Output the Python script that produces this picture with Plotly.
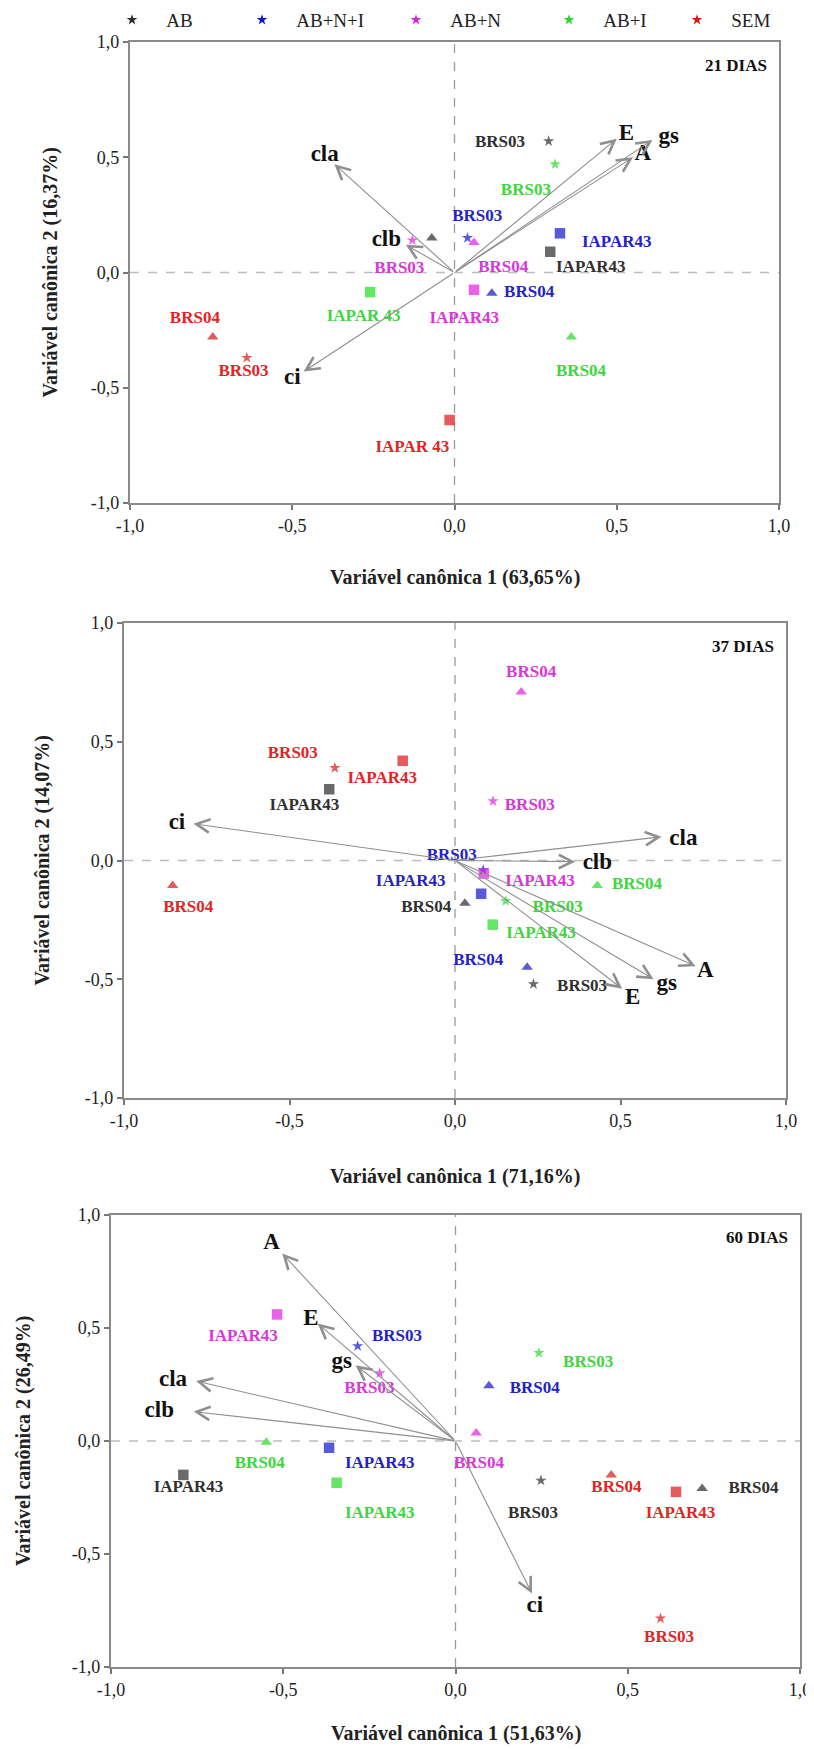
import plotly.graph_objects as go

# ---------------- data ----------------
groups = ["AB", "AB+N+I", "AB+N", "AB+I", "SEM"]
cultivars = ["BRS03", "BRS04", "IAPAR43"]

# Panel 1: 21 DIAS (order per group: BRS03, BRS04, IAPAR43)
p1_group = ["AB", "AB", "AB", "AB+N+I", "AB+N+I", "AB+N+I", "AB+N", "AB+N", "AB+N",
            "AB+I", "AB+I", "AB+I", "SEM", "SEM", "SEM"]
p1_cult = ["BRS03", "BRS04", "IAPAR43"] * 5
p1_x = [0.29, -0.07, 0.295, 0.04, 0.115, 0.325, -0.13, 0.06, 0.06, 0.31, 0.36, -0.26, -0.64, -0.745, -0.015]
p1_y = [0.57, 0.15, 0.09, 0.15, -0.09, 0.17, 0.14, 0.13, -0.075, 0.47, -0.28, -0.085, -0.37, -0.28, -0.64]
p1_text = ["BRS03", "", "IAPAR43", "BRS03", "BRS04", "IAPAR43", "BRS03", "BRS04", "IAPAR43",
           "BRS03", "BRS04", "IAPAR 43", "BRS03", "BRS04", "IAPAR 43"]
p1_lx = [0.14, 0.0, 0.42, 0.07, 0.23, 0.50, -0.17, 0.15, 0.03, 0.22, 0.39, -0.28, -0.65, -0.80, -0.13]
p1_ly = [0.565, 0.0, 0.02, 0.24, -0.09, 0.13, 0.015, 0.02, -0.20, 0.355, -0.43, -0.19, -0.43, -0.20, -0.76]
p1_vars = ["E", "gs", "A", "cla", "clb", "ci"]
p1_vx = [0.50, 0.61, 0.55, -0.37, -0.15, -0.465]
p1_vy = [0.58, 0.575, 0.50, 0.47, 0.12, -0.43]
p1_vlx = [0.53, 0.66, 0.58, -0.40, -0.21, -0.50]
p1_vly = [0.60, 0.585, 0.515, 0.51, 0.14, -0.46]

# Panel 2: 37 DIAS
p2_group = p1_group
p2_cult = p1_cult
p2_x = [0.237, 0.03, -0.38, 0.085, 0.218, 0.079, 0.115, 0.20, 0.087, 0.153, 0.43, 0.114, -0.363, -0.853, -0.158]
p2_y = [-0.52, -0.18, 0.30, -0.04, -0.45, -0.14, 0.25, 0.71, -0.055, -0.17, -0.105, -0.27, 0.39, -0.105, 0.42]
p2_text = ["BRS03", "BRS04", "IAPAR43", "BRS03", "BRS04", "IAPAR43", "BRS03", "BRS04", "IAPAR43",
           "BRS03", "BRS04", "IAPAR43", "BRS03", "BRS04", "IAPAR43"]
p2_lx = [0.384, -0.087, -0.455, -0.01, 0.07, -0.134, 0.226, 0.23, 0.257, 0.31, 0.55, 0.26, -0.49, -0.806, -0.22]
p2_ly = [-0.53, -0.20, 0.23, 0.02, -0.42, -0.09, 0.23, 0.79, -0.09, -0.20, -0.10, -0.31, 0.45, -0.20, 0.345]
p2_vars = ["ci", "cla", "clb", "A", "gs", "E"]
p2_vx = [-0.79, 0.624, 0.363, 0.727, 0.60, 0.505]
p2_vy = [0.155, 0.10, -0.005, -0.445, -0.50, -0.54]
p2_vlx = [-0.84, 0.69, 0.43, 0.756, 0.64, 0.537]
p2_vly = [0.155, 0.09, -0.01, -0.465, -0.52, -0.58]

# Panel 3: 60 DIAS
p3_group = p1_group
p3_cult = p1_cult
p3_x = [0.248, 0.716, -0.79, -0.284, 0.097, -0.367, -0.22, 0.06, -0.518, 0.242, -0.549, -0.345, 0.595, 0.452, 0.64]
p3_y = [-0.175, -0.21, -0.15, 0.42, 0.245, -0.03, 0.30, 0.035, 0.56, 0.39, -0.005, -0.185, -0.785, -0.15, -0.225]
p3_text = p2_text
p3_lx = [0.225, 0.865, -0.775, -0.17, 0.23, -0.22, -0.25, 0.068, -0.617, 0.385, -0.568, -0.22, 0.62, 0.467, 0.653]
p3_ly = [-0.32, -0.21, -0.205, 0.46, 0.23, -0.10, 0.23, -0.10, 0.46, 0.345, -0.10, -0.32, -0.87, -0.205, -0.32]
p3_vars = ["A", "E", "gs", "cla", "clb", "ci"]
p3_vx = [-0.503, -0.40, -0.29, -0.753, -0.76, 0.222]
p3_vy = [0.83, 0.52, 0.335, 0.265, 0.13, -0.675]
p3_vlx = [-0.534, -0.42, -0.33, -0.82, -0.86, 0.23]
p3_vly = [0.875, 0.54, 0.35, 0.27, 0.13, -0.73]

day_labels = ["21 DIAS", "37 DIAS", "60 DIAS"]
x_titles = ["Variável canônica 1 (63,65%)", "Variável canônica 1 (71,16%)", "Variável canônica 1 (51,63%)"]
y_titles = ["Variável canônica 2 (16,37%)", "Variável canônica 2 (14,07%)", "Variável canônica 2 (26,49%)"]
tick_vals = [-1.0, -0.5, 0.0, 0.5, 1.0]
tick_text = ["-1,0", "-0,5", "0,0", "0,5", "1,0"]

# ---------------- styles ----------------
W, H = 814, 1749
OFF = 8  # the page body adds an 8 px margin; screen px -> figure px
SERIF = "Liberation Serif"
marker_color = {"AB": "#2b2b2b", "AB+N+I": "#1414c8", "AB+N": "#e11fe1", "AB+I": "#22dd22", "SEM": "#dd1414"}
label_color = {"AB": "#303030", "AB+N+I": "#2424c4", "AB+N": "#d63ad6", "AB+I": "#3fd63f", "SEM": "#e02626"}
symbol_of = {"BRS03": "star", "BRS04": "triangle-up", "IAPAR43": "square"}
size_of = {"BRS03": 8.5, "BRS04": 10, "IAPAR43": 10.5}
legend_star_px = [132, 262, 416, 569, 697]
legend_y_px = 20


def px_x(p):
    return (p - OFF) / W


def px_y(p):
    return 1 - (p - OFF) / H


# plot-area screen pixel boxes (left, right, top, bottom)
boxes = [(130, 779, 42, 503), (124, 786, 623, 1098), (111, 800, 1215, 1667)]
xtitle_y = [577, 1176, 1733]
ytitle_x = [50, 42, 23]
panels = [
    (p1_group, p1_cult, p1_x, p1_y, p1_text, p1_lx, p1_ly, p1_vars, p1_vx, p1_vy, p1_vlx, p1_vly),
    (p2_group, p2_cult, p2_x, p2_y, p2_text, p2_lx, p2_ly, p2_vars, p2_vx, p2_vy, p2_vlx, p2_vly),
    (p3_group, p3_cult, p3_x, p3_y, p3_text, p3_lx, p3_ly, p3_vars, p3_vx, p3_vy, p3_vlx, p3_vly),
]

fig = go.Figure()
annotations = []
shapes = []
layout_extra = {}

for i, (grp, cult, px, py, ptxt, lx, ly, vnames, vx, vy, vlx, vly) in enumerate(panels):
    n = i + 1
    xa = "x" if n == 1 else f"x{n}"
    ya = "y" if n == 1 else f"y{n}"
    left, right, top, bottom = boxes[i]
    xdom = [px_x(left), px_x(right)]
    ydom = [px_y(bottom), px_y(top)]
    axis_common = dict(range=[-1, 1], tickvals=tick_vals, ticktext=tick_text, ticks="outside",
                       ticklen=5, tickcolor="#777", tickwidth=1.5, showgrid=False, zeroline=False,
                       showline=True, mirror=True, linecolor="#8a8a8a", linewidth=2.2,
                       automargin=False,
                       tickfont=dict(family=SERIF, size=18, color="#222"), fixedrange=True)
    layout_extra["xaxis" if n == 1 else f"xaxis{n}"] = dict(axis_common, domain=xdom, anchor=ya)
    layout_extra["yaxis" if n == 1 else f"yaxis{n}"] = dict(axis_common, domain=ydom, anchor=xa)

    # dashed zero lines
    shapes.append(dict(type="line", xref=f"{xa} domain", yref=ya, x0=0, x1=1, y0=0, y1=0,
                       line=dict(color="#bdbdbd", width=1.3, dash="dash"), layer="below"))
    shapes.append(dict(type="line", xref=xa, yref=f"{ya} domain", x0=0, x1=0, y0=0, y1=1,
                       line=dict(color="#9a9a9a", width=1.3, dash="dash"), layer="below"))

    # variable vectors
    for name, tx, ty in zip(vnames, vx, vy):
        annotations.append(dict(x=tx, y=ty, ax=0, ay=0, xref=xa, yref=ya, axref=xa, ayref=ya,
                                text="", showarrow=True, arrowhead=5, arrowsize=2.4,
                                arrowwidth=1.1, arrowcolor="#8f8f8f"))
    fig.add_trace(go.Scatter(x=vlx, y=vly, mode="text", text=vnames, xaxis=xa, yaxis=ya,
                             textfont=dict(family=SERIF, size=23, color="#111", weight="bold"),
                             showlegend=False, hoverinfo="skip"))

    # treatment points, one trace per group
    for g in groups:
        idx = [k for k in range(len(grp)) if grp[k] == g]
        fig.add_trace(go.Scatter(
            x=[px[k] for k in idx], y=[py[k] for k in idx], mode="markers",
            marker=dict(symbol=[symbol_of[cult[k]] for k in idx],
                        size=[size_of[cult[k]] for k in idx],
                        color=marker_color[g], line=dict(width=0)),
            xaxis=xa, yaxis=ya, showlegend=False, name=g))
        fig.add_trace(go.Scatter(
            x=[lx[k] for k in idx], y=[ly[k] for k in idx], mode="text",
            text=[ptxt[k] for k in idx], xaxis=xa, yaxis=ya,
            textfont=dict(family=SERIF, size=17, color=label_color[g], weight="bold"),
            showlegend=False, hoverinfo="skip"))

    # day label
    annotations.append(dict(text=f"<b>{day_labels[i]}</b>", xref=f"{xa} domain", yref=f"{ya} domain",
                            x=0.985, y=0.95, xanchor="right", yanchor="middle", showarrow=False,
                            font=dict(family=SERIF, size=17, color="#111")))
    # axis titles
    annotations.append(dict(text=f"<b>{x_titles[i]}</b>", xref="paper", yref="paper",
                            x=px_x((left + right) / 2), y=px_y(xtitle_y[i]), xanchor="center",
                            yanchor="middle", showarrow=False,
                            font=dict(family=SERIF, size=20, color="#222")))
    annotations.append(dict(text=f"<b>{y_titles[i]}</b>", xref="paper", yref="paper",
                            x=px_x(ytitle_x[i]), y=px_y((top + bottom) / 2), xanchor="center",
                            yanchor="middle", showarrow=False, textangle=-90,
                            font=dict(family=SERIF, size=20, color="#222")))

# legend-only traces, one single-item legend per treatment
for j, g in enumerate(groups):
    lid = "legend" if j == 0 else f"legend{j + 1}"
    fig.add_trace(go.Scatter(x=[None], y=[None], mode="markers", name="\u00a0\u00a0\u00a0" + g,
                             marker=dict(symbol="star", size=8, color=marker_color[g]),
                             showlegend=True, legend=lid))
    layout_extra[lid] = dict(x=px_x(legend_star_px[j] - 20), y=px_y(legend_y_px),
                             xanchor="left", yanchor="middle", xref="paper", yref="paper",
                             font=dict(family=SERIF, size=19, color="#222"),
                             bgcolor="rgba(0,0,0,0)", borderwidth=0)

fig.update_layout(
    width=W, height=H, margin=dict(l=0, r=0, t=0, b=0, autoexpand=False),
    paper_bgcolor="white", plot_bgcolor="white",
    annotations=annotations, shapes=shapes,
    **layout_extra,
)

fig.write_html("out.html")
